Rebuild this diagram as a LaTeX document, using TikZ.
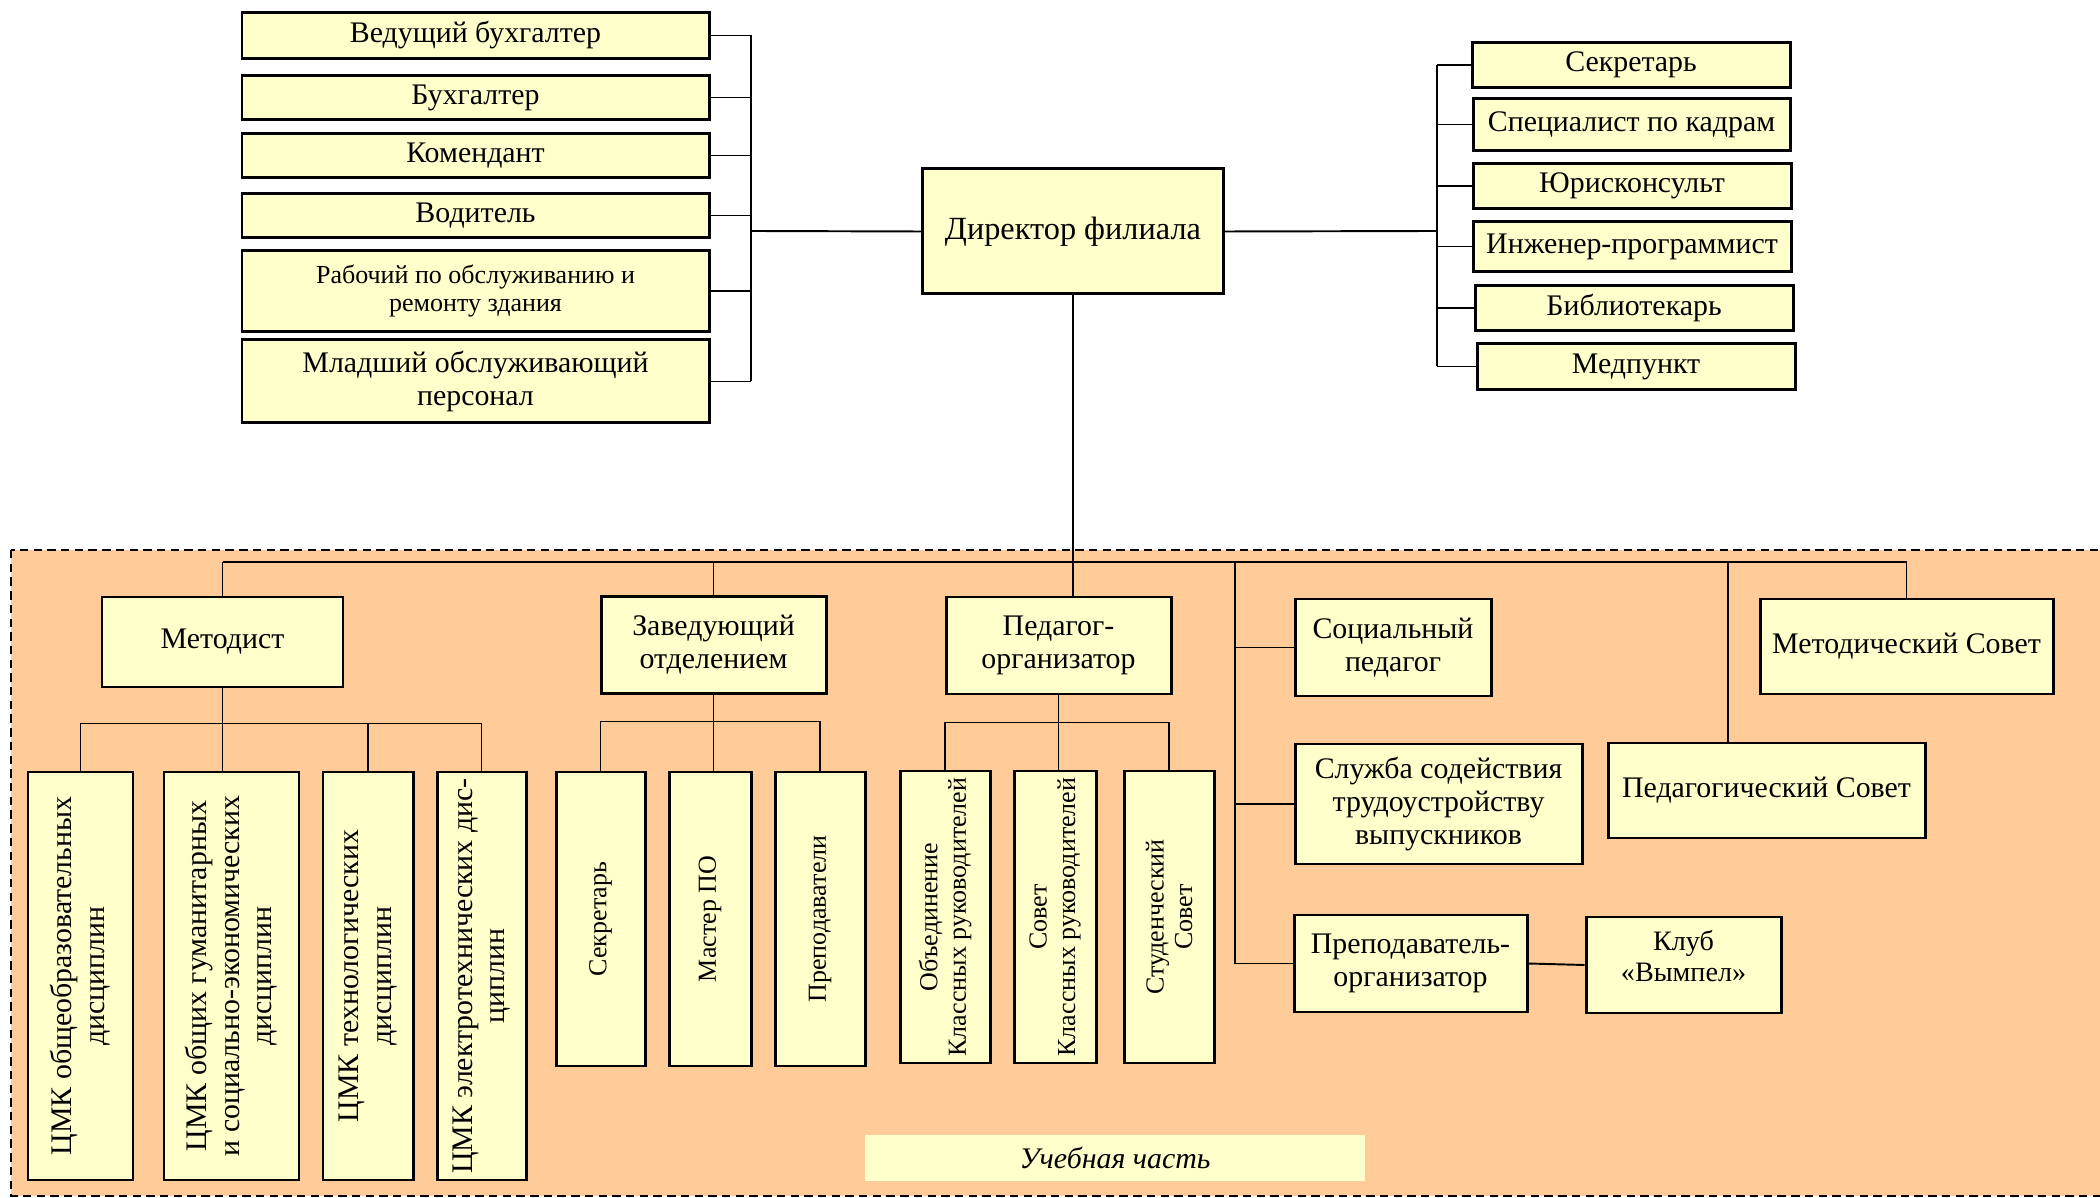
\documentclass[tikz,border=0pt]{standalone}
\usepackage{fontspec}
\setmainfont{Liberation Serif}
\definecolor{boxfill}{HTML}{FFFFCC}
\definecolor{partfill}{HTML}{FFCC99}

\begin{document}
\begin{tikzpicture}[x=0.1mm, y=-0.1mm,
	box/.style={draw, fill=boxfill, line width=0.85pt, inner sep=1pt, align=center,
		font=\fontsize{8.5}{9.3}\selectfont},
	small/.style={font=\fontsize{7.4}{8.1}\selectfont},
	vbox/.style={box, rotate=90},
	sz/.style 2 args={minimum width=#1*0.1mm, minimum height=#2*0.1mm},
	link/.style={line width=0.55pt}]
	
	\useasboundingbox (0,0) rectangle (2100,1198);
	
	% Teaching part (dashed area)
	\draw[fill=partfill, line width=0.6pt, dash pattern=on 2.4pt off 1.5pt] (11,550) rectangle (2115,1196);
	\node[fill=boxfill, sz={500}{46}, font=\fontsize{8.5}{9.3}\selectfont\itshape] (part) at (1115,1158) {Учебная часть};
	
	% Director
	\node[box, font=\fontsize{9.2}{10}\selectfont, sz={301}{125}] (dir) at (1073,231.5) {Директор филиала};
	
	% Staff on the left
	\node[box, sz={467}{46}] (vedbuh) at (475.5,35.5) {Ведущий бухгалтер};
	\node[box, sz={467}{44}] (buh) at (475.5,97.5) {Бухгалтер};
	\node[box, sz={467}{44}] (komend) at (475.5,155.5) {Комендант};
	\node[box, sz={467}{44}] (vodit) at (475.5,215.5) {Водитель};
	\node[box, small, sz={467}{81}] (raboch) at (475.5,291) {Рабочий по обслуживанию и\\ремонту здания};
	\node[box, sz={467}{83}] (mladsh) at (475.5,381.5) {Младший обслуживающий\\персонал};
	
	% Staff on the right
	\node[box, sz={318}{45}] (sekr) at (1631,65) {Секретарь};
	\node[box, sz={317}{52}] (kadry) at (1631.5,124.5) {Специалист по кадрам};
	\node[box, sz={318}{45}] (yurist) at (1632,186) {Юрисконсульт};
	\node[box, sz={318}{50}] (inzh) at (1632,246.5) {Инженер-программист};
	\node[box, sz={318}{45}] (bibl) at (1634,308) {Библиотекарь};
	\node[box, sz={318}{46}] (medp) at (1636,366.5) {Медпункт};
	
	% Buses of the director
	\coordinate (lbus) at (751,231);
	\coordinate (rbus) at (1437,231);
	\foreach \n in {vedbuh,buh,komend,vodit,raboch,mladsh}
		\draw[link] (\n.east) -- (\n.east -| lbus);
	\draw[link] (vedbuh.east -| lbus) -- (mladsh.east -| lbus);
	\draw[link] (lbus) -- (dir.west);
	\foreach \n in {sekr,kadry,yurist,inzh,bibl,medp}
		\draw[link] (\n.west) -- (\n.west -| rbus);
	\draw[link] (sekr.west -| rbus) -- (medp.west -| rbus);
	\draw[link] (dir.east) -- (rbus);
	
	% Heads of the teaching part
	\node[box, sz={241}{90}] (metod) at (222.5,642) {Методист};
	\node[box, sz={225}{97}] (zav) at (713.5,645) {Заведующий\\отделением};
	\node[box, sz={225}{97}] (pedorg) at (1058.5,645.5) {Педагог-\\организатор};
	\node[box, sz={196}{97}] (socped) at (1393,647.5) {Социальный\\педагог};
	\node[box, sz={287}{120}] (sluzh) at (1438.5,804) {Служба содействия\\трудоустройству\\выпускников};
	\node[box, sz={233}{97}] (prorg) at (1410.5,963.5) {Преподаватель-\\организатор};
	\node[box, font=\fontsize{8}{8.8}\selectfont, text depth=5pt, sz={195}{96}] (klub) at (1683.5,965) {Клуб\\«Вымпел»};
	\node[box, sz={293}{95}] (metsov) at (1906.5,646.5) {Методический Совет};
	\node[box, sz={317}{95}] (pedsov) at (1766.5,790.5) {Педагогический Совет};
	
	% Main bus
	\coordinate (mbus) at (226,562);
	\coordinate (sbus) at (1235,562);
	\coordinate (pbus) at (1728,562);
	\draw[link] (metod.north |- mbus) -- (metsov.north |- mbus);
	\foreach \n in {metod,zav,metsov}
		\draw[link] (\n.north) -- (\n.north |- mbus);
	\draw[link] (dir.south) -- (dir.south |- pedorg.north);
	\draw[link] (sbus) |- (prorg.west);
	\draw[link] (socped.west) -- (socped.west -| sbus);
	\draw[link] (sluzh.west) -- (sluzh.west -| sbus);
	\draw[link] (pbus) -- (pbus |- pedsov.north);
	\draw[link] (prorg.east) -- (klub.west);
	
	% Cycle commissions
	\node[vbox, sz={408}{105}] (cmk1) at (80.5,976) {ЦМК общеобразовательных\\дисциплин};
	\node[vbox, sz={408}{135}] (cmk2) at (231.5,976) {ЦМК общих гуманитарных\\и социально-экономических\\дисциплин};
	\node[vbox, sz={408}{90}] (cmk3) at (368,976) {ЦМК технологических\\дисциплин};
	\node[vbox, sz={408}{89}] (cmk4) at (481.5,976) {ЦМК электротехнических дис-\\циплин};
	\draw[link] (cmk1.east) -- ++(0,-47) -| (cmk4.east);
	\draw[link] (cmk3.east) -- ++(0,-47);
	\draw[link] (metod.south) -- (metod.south |- cmk2.east);
	
	% Department
	\node[vbox, small, sz={294}{89}] (sekr2) at (600.5,919) {Секретарь};
	\node[vbox, small, sz={294}{82}] (master) at (710,919) {Мастер ПО};
	\node[vbox, small, sz={294}{90}] (prepod) at (820,919) {Преподаватели};
	\draw[link] (sekr2.east) -- ++(0,-49) -| (prepod.east);
	\draw[link] (zav.south) -- (zav.south |- master.east);
	
	% Educational work
	\node[vbox, small, sz={292}{90}] (obed) at (945,917) {Объединение\\Классных руководителей};
	\node[vbox, small, sz={292}{82}] (sovet) at (1055,917) {Совет\\Классных руководителей};
	\node[vbox, small, sz={292}{90}] (stud) at (1169,917) {Студенческий\\Совет};
	\draw[link] (obed.east) -- ++(0,-47) -| (stud.east);
	\draw[link] (pedorg.south) -- (pedorg.south |- sovet.east);
	
\end{tikzpicture}
\end{document}
